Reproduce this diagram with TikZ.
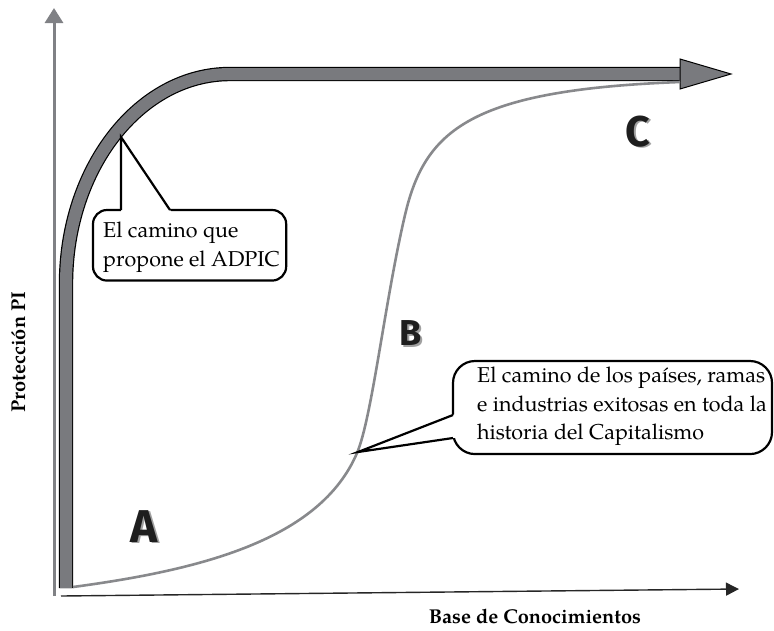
\documentclass[tikz,border=0pt]{standalone}
\usepackage{fontspec}
\setmainfont{TeX Gyre Pagella}
\newfontfamily\letterfont{Fira Sans}
\usetikzlibrary{arrows.meta,calc}

\definecolor{bandgray}{RGB}{121,122,126}
\definecolor{curvegray}{RGB}{136,137,140}
\definecolor{axisgray}{RGB}{128,129,133}
\definecolor{lettershade}{RGB}{160,160,160}
\definecolor{letterink}{RGB}{30,30,30}

%% the two ways to go, in pixel units (y downwards)
\def\adpicpath{(66,588) -- (66,284) arc[start angle=180, end angle=270, x radius=164, y radius=210] -- (681,74)}
\def\historiapath{(73,587) .. controls (200,570) and (320,540) .. (357,453)
    .. controls (372,418) and (385,300) .. (405,215)
    .. controls (425,130) and (470,90) .. (680,82)}

\newcommand\shadowletter[1]{\makebox[0pt][l]{\kern1.6pt\raisebox{-1.6pt}{\color{lettershade}#1}}#1}

\tikzset{
    bubble/.style={line width=2.2pt, rounded corners=#1},
    bubbletext/.style={inner sep=0pt, anchor=north west, align=left, font=\fontsize{21.5}{28.5}\selectfont},
    axislabel/.style={inner sep=0pt, anchor=base, font=\bfseries\fontsize{20}{24}\selectfont},
    letter/.style={inner sep=0pt, text=letterink, font=\letterfont\bfseries\fontsize{#1}{#1}\selectfont},
}

\begin{document}
\begin{tikzpicture}[x=1pt, y=-1pt]
    \useasboundingbox (0,0) rectangle (774,630);

    %% Axes
    \draw[axisgray, line width=3pt, -{Triangle[width=18pt,length=15pt]}] (54,596) -- (54,8);
    \draw[black!85, line width=1.4pt, -{Triangle[width=13pt,length=13pt]}] (61,596) -- (739,589);

    %% The two paths
    \draw[line width=1.2pt, double=bandgray, double distance=12pt] \adpicpath;
    \filldraw[fill=bandgray, draw=black, line width=1pt] (680,59) -- (731,74) -- (680,89) -- cycle;
    \draw[curvegray, line width=2.6pt] \historiapath;

    %% Axis labels
    \node[axislabel] (xlabel) at (535,623) {Base de Conocimientos};
    \node[axislabel, rotate=90] (ylabel) at (25,352) {Protección PI};

    %% Regions
    \node[letter=46] (markA) at (144,527) {\shadowletter{A}};
    \node[letter=36] (markB) at (411,334) {\shadowletter{B}};
    \node[letter=43] (markC) at (638,132) {\shadowletter{C}};

    %% Callout on the ADPIC way
    \node[bubbletext] (adpic) at (103,222) {El camino que\\propone el ADPIC};
    \draw[bubble=14] ($(adpic.north west)+(-10,-12)$) rectangle ($(adpic.south east)+(6,8)$);
    \coordinate (adpictip) at (121,137);
    \coordinate (adpicleft) at ($(adpic.north west)+(18,-12)$);
    \coordinate (adpicright) at ($(adpic.north west)+(67,-12)$);
    \fill[white] ($(adpicleft)!-0.06!(adpictip)$) -- (adpictip) -- ($(adpicright)!-0.06!(adpictip)$) -- cycle;
    \draw[line width=2.2pt] (adpicleft) -- (adpictip) -- (adpicright);

    %% Callout on the historical way
    \node[bubbletext] (historia) at (477,367) {El camino de los países, ramas\\e industrias exitosas en toda la\\historia del Capitalismo};
    \draw[bubble=22] ($(historia.north west)+(-24,-6)$) rectangle ($(historia.south east)+(5,8)$);
    \coordinate (historiatip) at (358,452);
    \coordinate (historiaup) at ($(historia.north west)+(-24,48)$);
    \coordinate (historiadown) at ($(historia.north west)+(-24,71)$);
    \fill[white] ($(historiaup)!-0.06!(historiatip)$) -- (historiatip) -- ($(historiadown)!-0.06!(historiatip)$) -- cycle;
    \draw[line width=2.2pt] (historiaup) -- (historiatip) -- (historiadown);
\end{tikzpicture}
\end{document}
